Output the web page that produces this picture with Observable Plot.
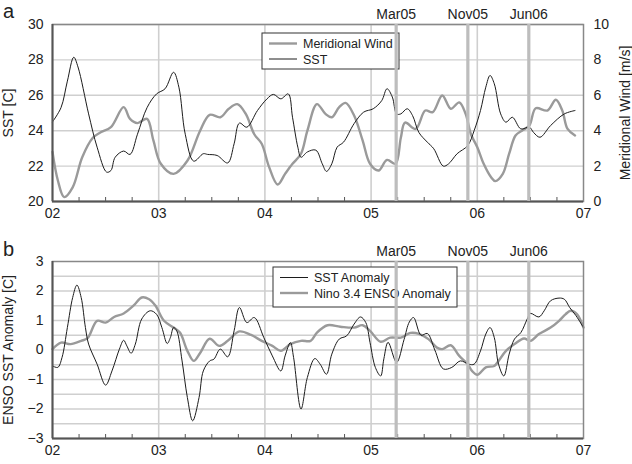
<!DOCTYPE html>
<html><head><meta charset="utf-8">
<script src="https://cdn.jsdelivr.net/npm/d3@7"></script>
<script src="https://cdn.jsdelivr.net/npm/@observablehq/plot@0.6"></script>
<style>
body{margin:0;background:#fff;font-family:"Liberation Sans",Arial,sans-serif}
#chart svg{display:block}
</style>
</head><body><div id="chart"></div>
<script>
// ---------- data ----------
const yearTicks = [2002, 2003, 2004, 2005, 2006, 2007];
const markerTimes = [2005.236, 2005.911, 2006.485];
const markerLabels = ["Mar05", "Nov05", "Jun06"];

const sstT = [2002.0,2002.08,2002.14,2002.2,2002.24,2002.34,2002.42,2002.51,2002.55,2002.59,2002.67,2002.73,2002.8,2002.89,2002.98,2003.06,2003.14,2003.19,2003.25,2003.33,2003.42,2003.46,2003.55,2003.65,2003.71,2003.76,2003.83,2003.93,2004.02,2004.08,2004.15,2004.22,2004.26,2004.31,2004.34,2004.4,2004.48,2004.54,2004.58,2004.63,2004.68,2004.74,2004.84,2004.93,2005.02,2005.1,2005.15,2005.2,2005.24,2005.28,2005.34,2005.39,2005.45,2005.53,2005.59,2005.68,2005.73,2005.81,2005.91,2005.97,2006.03,2006.08,2006.12,2006.16,2006.22,2006.27,2006.33,2006.41,2006.49,2006.53,2006.59,2006.69,2006.82,2006.92];
const sstV = [24.5,25.3,26.8,28.15,27.6,24.95,23.07,21.66,21.75,22.5,22.85,22.66,23.8,25.3,26.08,26.37,27.3,26.46,23.8,22.28,22.7,22.66,22.6,22.18,23.26,24.43,24.2,25.14,25.8,26.05,25.8,26.08,24.76,23.07,22.5,22.8,22.9,22.13,21.7,22.13,23.07,23.35,24.4,25.05,25.24,25.7,26.37,25.9,24.95,24.95,25.24,24.86,23.9,23.35,22.98,22.0,22.13,22.7,23.16,24.0,25.14,26.46,27.12,26.65,24.95,24.48,24.76,24.1,24.2,23.9,23.63,24.29,24.95,25.14];

const windT = [2002.0,2002.05,2002.11,2002.19,2002.28,2002.38,2002.45,2002.55,2002.67,2002.73,2002.8,2002.89,2002.95,2003.02,2003.14,2003.27,2003.39,2003.48,2003.58,2003.66,2003.74,2003.82,2003.9,2003.97,2004.04,2004.12,2004.19,2004.26,2004.34,2004.4,2004.49,2004.57,2004.63,2004.7,2004.76,2004.84,2004.92,2004.99,2005.07,2005.15,2005.23,2005.28,2005.32,2005.42,2005.51,2005.58,2005.67,2005.75,2005.83,2005.89,2005.94,2006.0,2006.06,2006.13,2006.17,2006.24,2006.3,2006.36,2006.42,2006.49,2006.55,2006.66,2006.74,2006.8,2006.85,2006.92];
const windV = [2.8,1.2,0.25,0.8,2.5,3.6,3.9,4.2,5.33,4.67,4.43,4.67,3.45,2.13,1.56,2.3,4.0,4.9,4.76,5.24,5.5,4.95,3.8,3.26,1.94,0.96,1.56,2.13,2.7,4.0,5.5,4.95,4.76,5.33,5.57,4.86,3.45,2.13,1.75,2.35,2.13,3.6,4.46,4.1,5.14,5.05,5.99,5.24,5.6,4.95,3.8,3.07,2.13,1.37,1.15,1.56,2.7,3.73,4.0,4.29,5.27,5.14,5.75,5.14,4.1,3.73];

const anomT = [2002.0,2002.05,2002.09,2002.14,2002.19,2002.23,2002.27,2002.31,2002.34,2002.42,2002.5,2002.56,2002.63,2002.67,2002.7,2002.74,2002.78,2002.84,2002.92,2002.98,2003.03,2003.08,2003.11,2003.14,2003.17,2003.22,2003.27,2003.32,2003.38,2003.42,2003.48,2003.52,2003.58,2003.65,2003.71,2003.76,2003.83,2003.9,2003.99,2004.07,2004.15,2004.19,2004.24,2004.27,2004.34,2004.4,2004.47,2004.52,2004.58,2004.63,2004.7,2004.77,2004.84,2004.9,2004.95,2004.99,2005.04,2005.09,2005.12,2005.16,2005.24,2005.31,2005.36,2005.4,2005.47,2005.53,2005.6,2005.68,2005.76,2005.84,2005.92,2005.97,2006.03,2006.08,2006.12,2006.16,2006.2,2006.25,2006.3,2006.35,2006.41,2006.47,2006.5,2006.58,2006.63,2006.69,2006.77,2006.82,2006.87,2006.93,2007.0];
const anomV = [-0.54,-0.59,-0.25,0.76,1.78,2.2,1.78,0.76,0.2,-0.48,-1.19,-0.71,0.03,0.33,0.14,-0.11,0.2,1.05,1.33,1.21,0.76,0.22,0.42,0.76,0.65,-0.37,-1.61,-2.4,-1.61,-0.71,-0.37,-0.31,0.03,-0.23,0.65,1.44,0.93,1.1,0.42,-0.2,-0.71,-0.2,0.25,-0.25,-2.0,-0.93,-0.29,-0.48,-0.82,-0.14,0.37,0.48,0.88,1.12,0.93,0.25,-0.59,-0.88,-0.3,0.26,-0.42,0.35,0.95,1.1,0.5,0.56,0.0,-0.64,-0.59,-0.37,-0.48,-0.48,-0.03,0.54,0.76,0.42,-0.48,-0.88,-0.14,0.37,0.59,1.05,1.24,1.12,1.33,1.67,1.76,1.72,1.44,1.16,0.76];

const ensoT = [2002.0,2002.08,2002.17,2002.27,2002.33,2002.42,2002.5,2002.58,2002.67,2002.77,2002.84,2002.91,2002.97,2003.05,2003.14,2003.2,2003.27,2003.33,2003.39,2003.48,2003.57,2003.65,2003.76,2003.87,2003.97,2004.07,2004.15,2004.24,2004.34,2004.43,2004.49,2004.59,2004.71,2004.84,2004.92,2004.99,2005.09,2005.18,2005.28,2005.37,2005.45,2005.54,2005.62,2005.67,2005.75,2005.83,2005.91,2005.95,2006.0,2006.08,2006.16,2006.2,2006.27,2006.35,2006.44,2006.5,2006.58,2006.69,2006.77,2006.83,2006.88,2006.94,2007.0];
const ensoV = [0.03,0.25,0.2,0.31,0.4,0.99,0.93,1.12,1.24,1.53,1.78,1.72,1.5,0.99,0.76,0.59,-0.03,-0.37,-0.1,0.38,0.14,0.31,0.63,0.51,0.31,0.14,-0.03,0.2,0.31,0.31,0.59,0.84,0.79,0.76,0.84,0.65,0.28,0.42,0.42,0.58,0.55,0.37,0.08,0.03,0.16,-0.2,-0.48,-0.71,-0.84,-0.59,-0.54,-0.37,-0.03,0.2,0.39,0.31,0.54,0.76,0.99,1.21,1.33,1.21,0.76];

const sstTicks = [20, 22, 24, 26, 28, 30];
const windTicks = [0, 2, 4, 6, 8, 10];
const anomTicks = [-3, -2, -1, 0, 1, 2, 3];
const anomGrid = [-2.5, -2, -1.5, -1, -0.5, 0, 0.5, 1, 1.5, 2, 2.5];

// ---------- helpers ----------
const zip = (t, v) => t.map((d, i) => ({t: d, v: v[i]}));
const sst = zip(sstT, sstV), wind = zip(windT, windV), anom = zip(anomT, anomV), enso = zip(ensoT, ensoV);
const markers = markerTimes.map((t, i) => ({t, label: markerLabels[i]}));
const quarterTicks = d3.range(2002, 2007.001, 0.25).filter(d => d % 1 !== 0);
const yrFmt = d => String(Math.round(d) % 100).padStart(2, "0");
const xDomain = [yearTicks[0], yearTicks[yearTicks.length - 1]];
const FONT = '"Liberation Sans", Arial, sans-serif';
const GRAY = "#9a9a9a", BLACK = "#1c1c1c";

function legendMark(x, y, w, h, items) {
  return () => {
    const g = d3.create("svg:g");
    g.append("rect").attr("x", x).attr("y", y).attr("width", w).attr("height", h)
      .attr("fill", "white").attr("stroke", "#333").attr("stroke-width", 1);
    items.forEach((it, i) => {
      const cy = y + 10.5 + i * 15.5;
      g.append("line").attr("x1", x + 7).attr("x2", x + 35).attr("y1", cy).attr("y2", cy)
        .attr("stroke", it.color).attr("stroke-width", it.width);
      g.append("text").attr("x", x + 41).attr("y", cy + 4.5).attr("font-size", 12.5)
        .attr("text-anchor", "start")
        .attr("font-family", FONT).attr("fill", "#222").text(it.label);
    });
    return g.node();
  };
}

function commonMarks() {
  return [
    Plot.gridX(yearTicks.slice(1, -1), {stroke: "#cfcfcf", strokeOpacity: 1, strokeWidth: 1.6}),
    Plot.axisX(yearTicks, {tickSize: 0, tickPadding: 7, tickFormat: yrFmt, label: null, fontSize: 14, fill: "#222"}),
    Plot.axisX(quarterTicks, {tickSize: -4, tickFormat: () => "", label: null, stroke: "#555"}),
  ];
}
function frameMarks(yDomain) {
  return [
    Plot.frame({stroke: "#888", strokeWidth: 1.5}),
    Plot.ruleX([xDomain[0]], {stroke: "#555", strokeWidth: 2}),
    Plot.ruleY([yDomain[0]], {stroke: "#555", strokeWidth: 2}),
  ];
}
function markerMarks() {
  return [
    Plot.ruleX(markers, {x: "t", stroke: "#bdbdbd", strokeWidth: 3.2}),
    Plot.text(markers, {x: "t", text: "label", frameAnchor: "top", lineAnchor: "bottom", dy: -6, fontSize: 14, fill: "#222"})
  ];
}
function sideTitle(label, side, dx) {
  return Plot.text([label], {text: d => d, frameAnchor: side, textAnchor: "middle", lineAnchor: "middle", rotate: -90, dx, fontSize: 14, fill: "#222"});
}

// ---------- panel a ----------
const yA = [sstTicks[0], sstTicks[sstTicks.length - 1]];
const panelA = Plot.plot({
  width: 632, height: 230,
  marginTop: 24, marginBottom: 29, marginLeft: 52, marginRight: 49,
  style: {fontFamily: FONT, fontSize: "14px", background: "white", color: "#222"},
  x: {domain: xDomain},
  y: {domain: yA},
  marks: [
    Plot.gridY(sstTicks, {stroke: "#cfcfcf", strokeOpacity: 1, strokeWidth: 1.4}),
    ...commonMarks(),
    Plot.axisY(sstTicks, {anchor: "left", tickSize: 0, tickPadding: 9, label: null, fontSize: 14, fill: "#222"}),
    Plot.axisY(windTicks.map(d => d + yA[0]), {anchor: "right", tickSize: 0, tickPadding: 10, tickFormat: d => d - yA[0], label: null, fontSize: 14, fill: "#222"}),
    Plot.lineY(wind, {x: "t", y: d => d.v + yA[0], stroke: GRAY, strokeWidth: 2.4, curve: "catmull-rom"}),
    Plot.lineY(sst, {x: "t", y: "v", stroke: BLACK, strokeWidth: 1, curve: "catmull-rom"}),
    ...frameMarks(yA),
    legendMark(262, 33, 137, 36, [
      {label: "Meridional Wind", color: GRAY, width: 2.4},
      {label: "SST", color: BLACK, width: 1}
    ]),
    ...markerMarks(),
    sideTitle("SST [C]", "left", -44),
    sideTitle("Meridional Wind [m/s]", "right", 42),
    Plot.text(["a"], {text: d => d, frameAnchor: "top-left", textAnchor: "middle", dx: -44, dy: -21, fontSize: 20, fill: "#222"})
  ]
});

// ---------- panel b ----------
const yB = [anomTicks[0], anomTicks[anomTicks.length - 1]];
const panelB = Plot.plot({
  width: 632, height: 234,
  marginTop: 31, marginBottom: 26, marginLeft: 52, marginRight: 49,
  style: {fontFamily: FONT, fontSize: "14px", background: "white", color: "#222"},
  x: {domain: xDomain},
  y: {domain: yB},
  marks: [
    Plot.gridY(anomGrid, {stroke: "#cfcfcf", strokeOpacity: 1, strokeWidth: 1.4}),
    ...commonMarks(),
    Plot.axisY(anomTicks, {anchor: "left", tickSize: 0, tickPadding: 9, label: null, fontSize: 14, fill: "#222"}),
    Plot.lineY(enso, {x: "t", y: "v", stroke: GRAY, strokeWidth: 2.4, curve: "catmull-rom"}),
    Plot.lineY(anom, {x: "t", y: "v", stroke: BLACK, strokeWidth: 1, curve: "catmull-rom"}),
    ...frameMarks(yB),
    legendMark(273, 37, 184, 40, [
      {label: "SST Anomaly", color: BLACK, width: 1},
      {label: "Nino 3.4 ENSO Anomaly", color: GRAY, width: 2.4}
    ]),
    ...markerMarks(),
    sideTitle("ENSO SST Anomaly [C]", "left", -44),
    Plot.text(["b"], {text: d => d, frameAnchor: "top-left", textAnchor: "middle", dx: -44, dy: -20, fontSize: 20, fill: "#222"})
  ]
});

document.getElementById("chart").append(panelA, panelB);
</script></body></html>
